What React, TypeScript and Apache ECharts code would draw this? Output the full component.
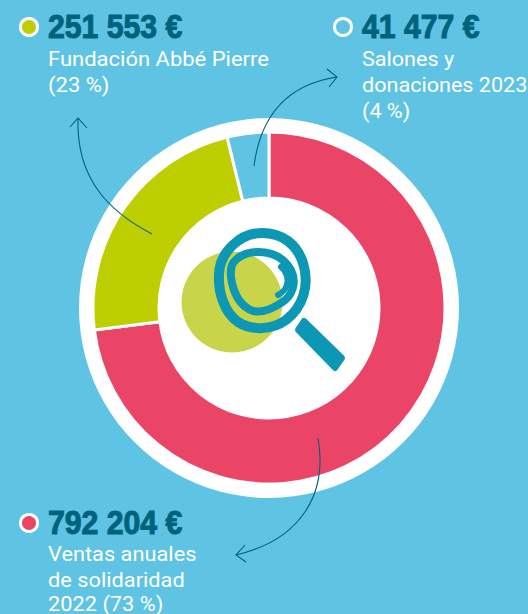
import React, { useEffect, useRef } from "react";
import * as echarts from "echarts";

const categories = ["Ventas anuales de solidaridad 2022", "Fundación Abbé Pierre", "Salones y donaciones 2023"];
const values = [792204, 251553, 41477];
const amountLabels = ["792 204 €", "251 553 €", "41 477 €"];
const noteLines = [
  ["Ventas anuales", "de solidaridad", "2022 (73 %)"],
  ["Fundación Abbé Pierre", "(23 %)"],
  ["Salones y", "donaciones 2023", "(4 %)"],
];
const sliceColors = ["#ea4566", "#bdcf00", "#5fc3e3"];

const BG = "#5fc3e3";
const DARK = "#00627c";
const LENS = "#0c98b4";

const arrowA = "M152,234 C110,212 76,180 78,118 M70,127 L78,118 L87,128";
const arrowB = "M254,166 C260,120 284,85 337,77 M327,69 L337,77 L329,87";
const arrowC = "M318,438 C328,495 300,540 236,555 M245,545 L236,555 L246,562";
const ring = "M262,233 C282,233 297,244 303,263 C310,285 303,307 286,320 C272,330 252,331 238,322 C224,312 218,292 219,274 C220,252 240,233 262,233 Z";
const spiral = "M233,263 C240,254 250,252 258,252 C272,252 284,258 291,270 C297,282 293,296 281,303 C272,309 262,313 253,311 C242,307 235,296 232,283 C230,274 230,268 233,263 Z";
const tip = "M278,295 C286,291 289,283 287,276 C286,272 284,269 281,267";
const handle = "M304,321 L342,358 L335,368 L298,330 Z";

echarts.graphic.registerShape("arrowA", echarts.graphic.extendPath(arrowA, {}) as any);
echarts.graphic.registerShape("arrowB", echarts.graphic.extendPath(arrowB, {}) as any);
echarts.graphic.registerShape("arrowC", echarts.graphic.extendPath(arrowC, {}) as any);
echarts.graphic.registerShape("lensRing", echarts.graphic.extendPath(ring, {}) as any);
echarts.graphic.registerShape("lensSpiral", echarts.graphic.extendPath(spiral, {}) as any);
echarts.graphic.registerShape("lensTip", echarts.graphic.extendPath(tip, {}) as any);
echarts.graphic.registerShape("lensHandle", echarts.graphic.extendPath(handle, {}) as any);

const amountStyle = (text: string) => ({
  text,
  fill: DARK,
  stroke: DARK,
  lineWidth: 1,
  font: 'bold 33px "Liberation Sans", sans-serif',
  verticalAlign: "middle",
});
const noteStyle = (text: string) => ({
  text,
  fill: "#ffffff",
  font: '400 20px "Roboto", sans-serif',
  verticalAlign: "middle",
});

export default function App() {
  const ref = useRef<HTMLDivElement>(null);
  useEffect(() => {
    const chart = echarts.init(ref.current!, null, { renderer: "svg" });
    const blocks = [
      { idx: 0, mx: 29, my: 523, tx: 48, ty: 523, ny: [554, 580, 604], sx: 1.09 },
      { idx: 1, mx: 29, my: 27, tx: 48, ty: 27, ny: [59, 85], sx: 1.1 },
      { idx: 2, mx: 343, my: 27, tx: 362, ty: 27, ny: [59, 85, 111], sx: 1.08 },
    ];
    const texts: any[] = [];
    blocks.forEach((b) => {
      texts.push({ type: "circle", shape: { cx: b.mx, cy: b.my, r: 8.5 }, style: { fill: sliceColors[b.idx], stroke: "#fff", lineWidth: 3 }, silent: true });
      texts.push({ type: "text", x: b.tx, y: b.ty, scaleX: 0.915, style: amountStyle(amountLabels[b.idx]) });
      noteLines[b.idx].forEach((line, i) => {
        texts.push({ type: "text", x: b.tx, y: b.ny[i], scaleX: b.sx, style: noteStyle(line) });
      });
    });
    chart.setOption({
      animation: false,
      backgroundColor: BG,
      series: [
        {
          type: "pie",
          silent: true,
          center: [269, 308],
          radius: [0, 190],
          z: 1,
          label: { show: false },
          labelLine: { show: false },
          itemStyle: { color: "#fff" },
          data: [{ value: 1, name: "fond" }],
        },
        {
          type: "pie",
          silent: true,
          center: [269, 308],
          radius: [110, 176],
          startAngle: 90,
          clockwise: true,
          z: 2,
          label: { show: false },
          labelLine: { show: false },
          itemStyle: { borderColor: "#fff", borderWidth: 3 },
          data: categories.map((name, i) => ({ name, value: values[i], itemStyle: { color: sliceColors[i] } })),
        },
      ],
      graphic: {
        elements: [
          { type: "circle", z: 10, shape: { cx: 232, cy: 302, r: 50.5 }, style: { fill: "#c8d449" }, silent: true },
          { type: "lensRing", z: 11, style: { fill: "none", stroke: LENS, lineWidth: 10 }, silent: true },
          { type: "lensSpiral", z: 11, style: { fill: "none", stroke: LENS, lineWidth: 8 }, silent: true },
          { type: "lensTip", z: 11, style: { fill: "none", stroke: LENS, lineWidth: 6, lineCap: "round" }, silent: true },
          { type: "lensHandle", z: 11, style: { fill: LENS, stroke: LENS, lineWidth: 6, lineJoin: "round" }, silent: true },
          { type: "arrowA", z: 12, style: { fill: "none", stroke: DARK, lineWidth: 1.1 }, silent: true },
          { type: "arrowB", z: 12, style: { fill: "none", stroke: DARK, lineWidth: 1.1 }, silent: true },
          { type: "arrowC", z: 12, style: { fill: "none", stroke: DARK, lineWidth: 1.1 }, silent: true },
          ...texts.map((t) => ({ ...t, z: 13 })),
        ],
      },
    });
    return () => chart.dispose();
  }, []);
  return <div ref={ref} style={{ position: "fixed", left: 0, top: 0, width: 528, height: 614 }} />;
}
